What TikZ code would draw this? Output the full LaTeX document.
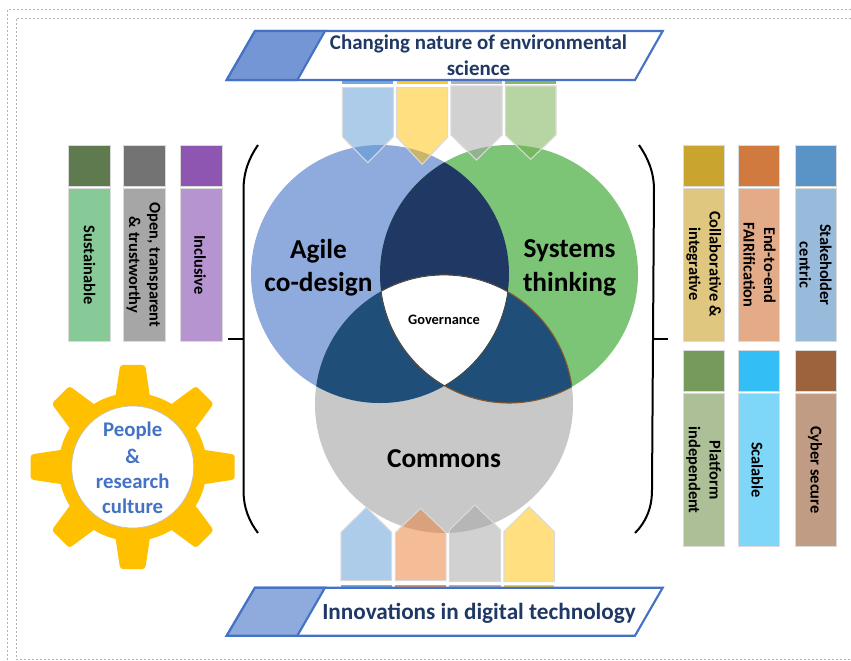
\documentclass[tikz,border=0pt]{standalone}
\usepackage{fontspec}
\setmainfont{Carlito}
\definecolor{navy}{HTML}{1F3864}
\definecolor{lensblue}{HTML}{1F4E79}
\definecolor{bannerblue}{HTML}{4472C4}
\definecolor{bannerfill}{HTML}{7596D4}
\definecolor{agile}{HTML}{8FAADC}
\definecolor{systems}{HTML}{7CC576}
\definecolor{commons}{HTML}{C8C8C8}
\definecolor{gearcol}{HTML}{FFC000}
\definecolor{tabedge}{HTML}{DADADA}
\definecolor{aBlue}{HTML}{5B9BD5}
\definecolor{aYellow}{HTML}{FFC000}
\definecolor{aGray}{HTML}{A5A5A5}
\definecolor{aGreen}{HTML}{70AD47}
\definecolor{aOrange}{HTML}{ED7D31}
\definecolor{hSust}{HTML}{5F7A4F}\definecolor{bSust}{HTML}{87C997}
\definecolor{hOpen}{HTML}{737373}\definecolor{bOpen}{HTML}{A6A6A6}
\definecolor{hIncl}{HTML}{8E56B0}\definecolor{bIncl}{HTML}{B594D0}
\definecolor{hColl}{HTML}{C9A530}\definecolor{bColl}{HTML}{DFC77F}
\definecolor{hEnd}{HTML}{D07A40}\definecolor{bEnd}{HTML}{E3AB87}
\definecolor{hStak}{HTML}{5A94C7}\definecolor{bStak}{HTML}{98BBDC}
\definecolor{hPlat}{HTML}{759A5C}\definecolor{bPlat}{HTML}{ACBF97}
\definecolor{hScal}{HTML}{33BFF5}\definecolor{bScal}{HTML}{7ED6F8}
\definecolor{hCyb}{HTML}{9C633D}\definecolor{bCyb}{HTML}{C09C84}
\tikzset{
  frameline/.style={draw=black!30,line width=0.7pt,dash pattern=on 1.5pt off 1.5pt},
  tab/.style={draw=tabedge,line width=0.7pt},
  pointer/.style={fill=#1,fill opacity=0.5,draw=tabedge,line width=0.8pt,draw opacity=1},
  strip/.style={fill=#1,fill opacity=0.85},
  brace/.style={draw=black,line width=1.5pt},
  banner/.style={draw=bannerblue,line width=1.6pt,line join=miter},
  vert/.style={rotate=-90,font=\fontsize{12.3}{15.4}\selectfont\bfseries,text=black,inner sep=0pt,align=center},
  title/.style={font=\fontsize{15.7}{19}\selectfont\bfseries,text=navy,inner sep=0pt},
  big/.style={font=\fontsize{20.5}{25}\selectfont\bfseries,text=black,inner sep=0pt,align=center},
  gearlabel/.style={font=\fontsize{15.6}{15.6}\selectfont\bfseries,text=bannerblue,inner sep=0pt}
}
\def\cA{(380,274) circle (129)}
\def\cB{(509,274) circle (129)}
\def\cC{(444,404) circle (129)}
% args: x0, x1, ytop, yshoulder, ytip, colour
\newcommand{\downptr}[6]{%
  \fill[strip=#6] (#1,60) rectangle (#2,84);
  \path[pointer=#6] (#1,#3) -- (#2,#3) -- (#2,#4) -- ({(#1+#2)/2},#5) -- (#1,#4) -- cycle;
}
\newcommand{\upptr}[6]{%
  \fill[strip=#6] (#1,585) rectangle (#2,600);
  \path[pointer=#6] (#1,#3) -- (#2,#3) -- (#2,#4) -- ({(#1+#2)/2},#5) -- (#1,#4) -- cycle;
}
% args: x0, ytop, head colour, body colour
\newcommand{\colbox}[4]{%
  \path[tab,fill=#3] (#1,#2) rectangle ({#1+41.3},{#2+41});
  \path[tab,fill=#4] (#1,{#2+43.3}) rectangle ({#1+41.3},{#2+196.4});
}
\begin{document}
\begin{tikzpicture}[x=0.75pt,y=-0.75pt]
\useasboundingbox (0,0) rectangle (851,661);
\fill[white] (0,0) rectangle (851,661);
% page frame
\draw[frameline] (851,9) -- (7.5,9) -- (7.5,661);
\draw[frameline] (851,18) -- (16,18) -- (16,659.5) -- (851,659.5);
% venn
\fill[commons] \cC;
\fill[agile] \cA;
\fill[systems] \cB;
\begin{scope}\clip \cA; \fill[navy] \cB; \end{scope}
\begin{scope}\clip \cA; \fill[lensblue] \cC; \end{scope}
\begin{scope}\clip \cB; \fill[lensblue] \cC; \end{scope}
\begin{scope}\clip \cC; \draw[color=brown!70!black,line width=0.8pt] \cB; \end{scope}
\begin{scope}\clip \cB; \draw[color=brown!70!black,line width=0.8pt] \cC; \end{scope}
\begin{scope}\clip \cA; \clip \cB; \fill[white] \cC; \end{scope}
\begin{scope}\clip \cA; \clip \cB; \draw[black!75,line width=0.6pt] \cC; \end{scope}
\begin{scope}\clip \cB; \clip \cC; \draw[black!75,line width=0.6pt] \cA; \end{scope}
\begin{scope}\clip \cA; \clip \cC; \draw[black!75,line width=0.6pt] \cB; \end{scope}
% top pointers
\downptr{342.3}{393.3}{87.7}{136.7}{162.7}{aBlue}
\downptr{396.7}{447.7}{87.7}{137}{164.3}{aYellow}
\downptr{451}{502}{86}{135}{160}{aGray}
\downptr{505.3}{556}{86}{135}{159.3}{aGreen}
% bottom pointers
\upptr{341}{391.7}{580.7}{532.3}{507.3}{aBlue}
\upptr{395.3}{446}{580.7}{532.7}{508.3}{aOrange}
\upptr{449.3}{500.7}{581.7}{530}{505}{aGray}
\upptr{504}{554.3}{581.7}{531.7}{506.7}{aYellow}
% banners
\path[banner,fill=white] (226.7,80) -- (255,31) -- (662.7,31) -- (635,80) -- cycle;
\path[banner,fill=bannerfill] (226.7,80) -- (255,31) -- (325,31) -- (297.3,80) -- cycle;
\path[banner,fill=white] (226.7,635.7) -- (255,587.7) -- (662.7,587.7) -- (635,635.7) -- cycle;
\path[banner,fill=agile] (226.7,635.7) -- (255,587.7) -- (325,587.7) -- (297.3,635.7) -- cycle;
\node[title] (t1) at (478.5,43.5) {Changing nature of environmental};
\node[title] (t2) at (478.5,68.5) {science};
\node[title,font=\fontsize{17.4}{21}\selectfont\bfseries] (t3) at (479,613.5) {Innovations in digital technology};
% braces
\coordinate (ltick) at (228,339);
\coordinate (lmid) at (243.5,339);
\coordinate (rtick) at (668,339);
\coordinate (rmid) at (653.5,339);
\draw[brace] (258,145) .. controls (249,158) and (243.5,172) .. (243.5,190) -- (243.5,490) .. controls (243.5,508) and (249,521) .. (258,533);
\draw[brace] (ltick) -- (lmid);
\draw[brace] (639,145) .. controls (648,158) and (654,172) .. (654,190) -- (652,490) .. controls (652,508) and (646,522) .. (635,533);
\draw[brace] (rtick) -- (rmid);
% big labels
\node[big] (agile) at (318.5,268) {Agile\\co-design};
\node[big] (sys) at (569.5,268) {Systems\\thinking};
\node[big] (comm) at (444,459) {Commons};
\node[font=\fontsize{10.8}{12}\selectfont\bfseries,text=black,inner sep=0pt] (gov) at (444,320) {Governance};
% left tabs
\colbox{68.7}{145.3}{hSust}{bSust}
\colbox{123.7}{145.3}{hOpen}{bOpen}
\colbox{180.7}{145.3}{hIncl}{bIncl}
\node[vert] (v1) at (89.5,265) {Sustainable};
\node[vert] (v2) at (143.5,265) {Open, transparent\\\& trustworthy};
\node[vert] (v3) at (200,265) {Inclusive};
% right tabs
\colbox{683.3}{145.3}{hColl}{bColl}
\colbox{738.3}{145.3}{hEnd}{bEnd}
\colbox{795.3}{145.3}{hStak}{bStak}
\colbox{683.3}{350}{hPlat}{bPlat}
\colbox{738.3}{350}{hScal}{bScal}
\colbox{795.3}{350}{hCyb}{bCyb}
\node[vert] (v4) at (703.7,264) {Collaborative \&\\integrative};
\node[vert] (v5) at (759.6,265) {End-to-end\\FAIRification};
\node[vert] (v6) at (815.5,265) {Stakeholder\\centric};
\node[vert] (v7) at (703.7,470) {Platform\\independent};
\node[vert] (v8) at (757.3,470) {Scalable};
\node[vert] (v9) at (815,470) {Cyber secure};
% gear
\begin{scope}[shift={(132.7,467)}]
\fill[gearcol] (0,0) circle (74);
\foreach \a in {0,45,...,315}{
  \fill[gearcol,rounded corners=2.2pt] ({\a-15.2}:68.4) -- ({\a-7}:102.8) -- ({\a+7}:102.8) -- ({\a+15.2}:68.4) -- cycle;
}
\path[fill=white,draw=black!25,line width=0.5pt] (0,0) circle (61);
\end{scope}
\node[gearlabel] (g1) at (132.7,431) {People};
\node[gearlabel] (g2) at (132.7,456.5) {\&};
\node[gearlabel] (g3) at (132.7,481) {research};
\node[gearlabel] (g4) at (132.7,506) {culture};
\end{tikzpicture}
\end{document}
